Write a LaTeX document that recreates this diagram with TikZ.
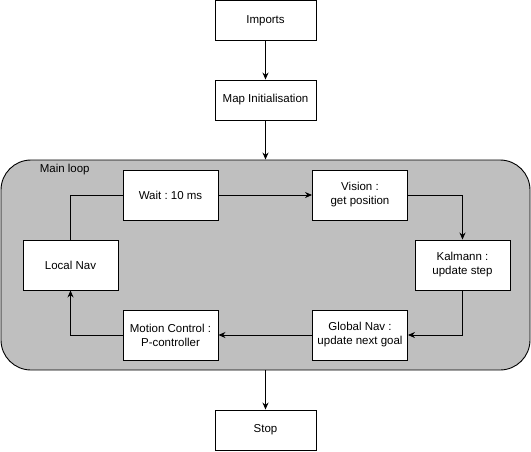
\documentclass[tikz,border=0pt]{standalone}
\usepackage{fontspec}
\setmainfont{Liberation Sans}
\usetikzlibrary{arrows.meta}
\definecolor{loopgray}{HTML}{BFBFBF}
\frenchspacing

\begin{document}
\begin{tikzpicture}[x=1pt,y=-1pt,line width=0.9pt,
    font=\fontsize{11.5}{14}\selectfont,
    stepbox/.style={draw,fill=white,minimum width=95,minimum height=50,align=center,inner sep=1pt},
    endbox/.style={draw,fill=white,minimum width=101,minimum height=40,align=center},
    flow/.style={-{Stealth[length=7pt,width=6pt]}}]
    \useasboundingbox (0,0) rectangle (531,451);
    % outer steps
    \node[endbox] (imports) at (265.5,20.5) {Imports};
    \node[endbox] (map) at (265.5,100) {Map Initialisation};
    \node[endbox] (stop) at (265.5,430) {Stop};
    % main loop
    \node[draw,fill=loopgray,rounded corners=30pt,minimum width=529,minimum height=210] (loop) at (265.5,265) {};
    \node[anchor=west] (looplabel) at (36,170) {Main loop};
    \node[stepbox] (wait) at (170.5,195) {Wait : 10 ms};
    \node[stepbox] (vision) at (360,195) {Vision :\\ get position};
    \node[stepbox] (kalman) at (462.5,265) {Kalmann :\\ update step};
    \node[stepbox] (global) at (360,335) {Global Nav :\\ update next goal};
    \node[stepbox] (motion) at (170.5,335) {Motion Control :\\ P-controller};
    \node[stepbox] (local) at (70.5,265) {Local Nav};
    % connectors
    \draw[flow] (imports) -- (map);
    \draw[flow] (map) -- (loop.north);
    \draw[flow] (loop.south) -- (stop);
    \draw[flow] (wait) -- (vision);
    \draw[flow] (vision) -| (kalman);
    \draw[flow] (kalman) |- (global);
    \draw[flow] (global) -- (motion);
    \draw[flow] (motion) -| (local);
    \draw (local) |- (wait);
\end{tikzpicture}
\end{document}
